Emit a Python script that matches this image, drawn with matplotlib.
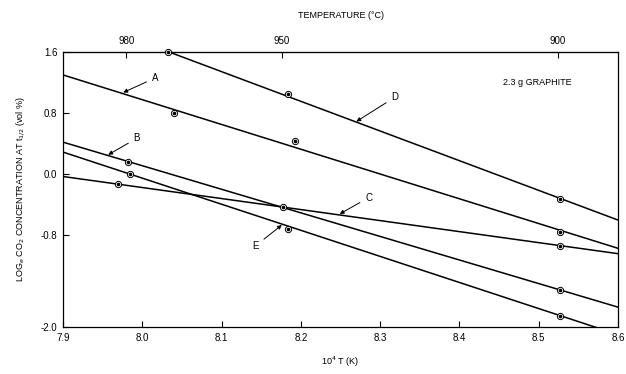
import matplotlib
matplotlib.use("Agg")
import matplotlib.pyplot as plt
import numpy as np

plt.rcParams['font.family'] = ['Liberation Sans', 'DejaVu Sans']

# ---- data ----
fit_x = [7.9, 8.6]                     # x-range of fitted lines (10^4/T)
line_A = [1.30, -0.97]
line_B = [0.42, -1.74]
line_C = [-0.03, -1.04]
line_D = [2.12, -0.60]
line_E = [0.29, -2.10]

pts_A_x = [8.040, 8.192, 8.527]; pts_A_y = [0.80, 0.435, -0.752]
pts_B_x = [7.982, 8.178, 8.527]; pts_B_y = [0.164, -0.43, -1.515]
pts_C_x = [7.970, 8.527];        pts_C_y = [-0.13, -0.935]
pts_D_x = [8.033, 8.184, 8.527]; pts_D_y = [1.60, 1.05, -0.324]
pts_E_x = [7.984, 8.184, 8.527]; pts_E_y = [0.0, -0.717, -1.85]

labels = ['A', 'B', 'C', 'D', 'E']
label_xy = [(8.012, 1.26), (7.989, 0.47), (8.281, -0.307), (8.314, 1.007), (8.139, -0.935)]
arrow_xy = [(7.976, 1.07), (7.957, 0.255), (8.249, -0.52), (8.270, 0.69), (8.176, -0.665)]

x_ticks = [7.9, 8.0, 8.1, 8.2, 8.3, 8.4, 8.5, 8.6]
y_ticks = [1.6, 0.8, 0.0, -0.8, -2.0]
temp_ticks = [980, 950, 900]

fig = plt.figure(figsize=(6.26, 3.74), dpi=100)
ax = fig.add_axes([63/626, 1-327/374, (618-63)/626, (327-52)/374])

for ln in [line_A, line_B, line_C, line_D, line_E]:
    ax.plot(fit_x, ln, color='black', lw=1.1)

for px, py in [(pts_A_x, pts_A_y), (pts_B_x, pts_B_y), (pts_C_x, pts_C_y),
               (pts_D_x, pts_D_y), (pts_E_x, pts_E_y)]:
    ax.plot(px, py, 'o', ms=4.5, mfc='white', mec='black', mew=0.7, clip_on=False, zorder=3)
    ax.plot(px, py, 'o', ms=1.6, color='black', clip_on=False, zorder=4)

for lab, lxy, axy in zip(labels, label_xy, arrow_xy):
    ax.annotate(lab, xy=axy, xytext=lxy, fontsize=7, ha='left', va='center',
                arrowprops=dict(arrowstyle='-|>', color='black', lw=0.7,
                                mutation_scale=6, shrinkA=2, shrinkB=0))

ax.text(8.455, 1.2, '2.3 g GRAPHITE', fontsize=6.5, ha='left', va='center')

ax.set_xlim(7.9, 8.6)
ax.set_ylim(-2.0, 1.6)
ax.set_xticks(x_ticks)
ax.set_xticklabels([f'{v:.1f}' for v in x_ticks])
ax.set_yticks(y_ticks)
ax.set_yticklabels([f'{v:.1f}' for v in y_ticks])
ax.tick_params(direction='in', length=4, width=0.8, labelsize=7, pad=4)
for s in ax.spines.values():
    s.set_linewidth(0.9)

sec = ax.secondary_xaxis('top', functions=(lambda x: 1e4/np.asarray(x, float) - 273.15,
                                           lambda t: 1e4/(np.asarray(t, float) + 273.15)))
sec.set_xticks(temp_ticks)
sec.set_xticklabels([str(t) for t in temp_ticks])
sec.tick_params(direction='in', length=4, width=0.8, labelsize=7, pad=4)
sec.set_xlabel('TEMPERATURE (°C)', fontsize=6.5, labelpad=13)

ax.set_xlabel('10$^4$ T (K)', fontsize=6.5, labelpad=9)
ax.set_ylabel('LOG$_e$ CO$_2$ CONCENTRATION AT t$_{1/2}$ (vol %)', fontsize=6.5, labelpad=10)

fig.savefig('out.png', dpi=100)
